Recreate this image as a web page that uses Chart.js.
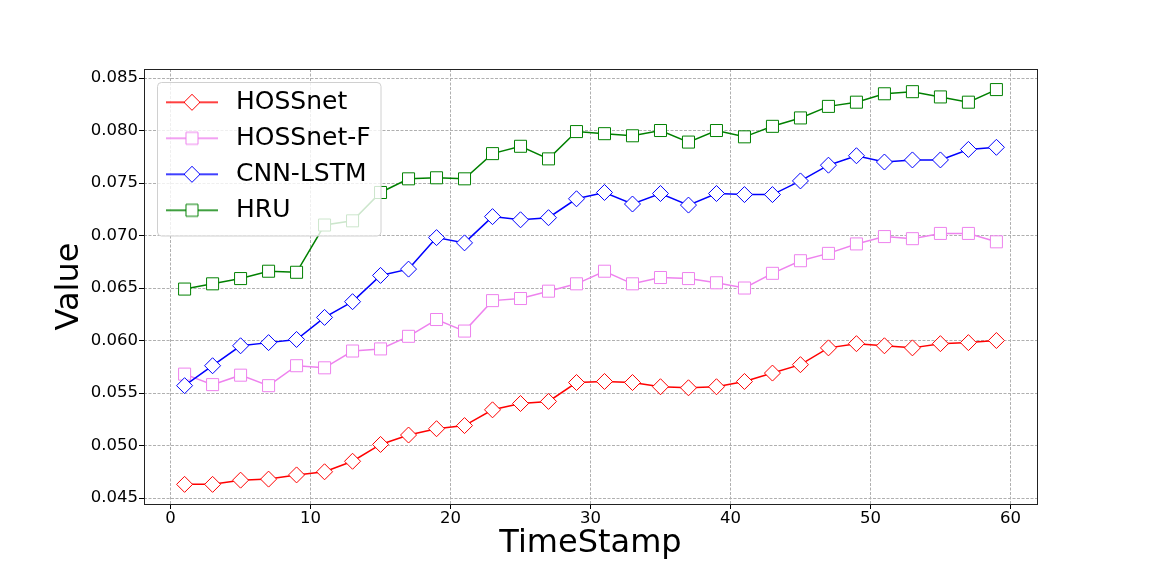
<!DOCTYPE html>
<html>
<head>
<meta charset="utf-8">
<script src="https://cdn.jsdelivr.net/npm/chart.js@4/dist/chart.umd.min.js"></script>
<style>
  html, body { margin: 0; padding: 0; background: #ffffff; }
  #wrap { width: 1152px; height: 576px; }
</style>
</head>
<body>
<div id="wrap"><canvas id="c" width="1152" height="576"></canvas></div>
<script>
// ---- data ----
const timeStamps = [1, 3, 5, 7, 9, 11, 13, 15, 17, 19, 21, 23, 25, 27, 29,
                    31, 33, 35, 37, 39, 41, 43, 45, 47, 49, 51, 53, 55, 57, 59];

const seriesNames = ['HOSSnet', 'HOSSnet-F', 'CNN-LSTM', 'HRU'];

const hossnet = [0.0463, 0.0463, 0.0467, 0.0468, 0.0472, 0.0475, 0.0485, 0.0501, 0.0510, 0.0516,
                 0.0519, 0.0534, 0.0540, 0.0542, 0.0560, 0.0561, 0.0560, 0.0556, 0.0555, 0.0556,
                 0.0561, 0.0569, 0.0577, 0.0593, 0.0597, 0.0595, 0.0593, 0.0597, 0.0598, 0.0600];

const hossnetF = [0.0568, 0.0558, 0.0567, 0.0557, 0.0576, 0.0574, 0.0590, 0.0592, 0.0604, 0.0620,
                  0.0609, 0.0638, 0.0640, 0.0647, 0.0654, 0.0666, 0.0654, 0.0660, 0.0659, 0.0655,
                  0.0650, 0.0664, 0.0676, 0.0683, 0.0692, 0.0699, 0.0697, 0.0702, 0.0702, 0.0694];

const cnnLstm = [0.0557, 0.0576, 0.0595, 0.0598, 0.0601, 0.0622, 0.0637, 0.0662, 0.0668, 0.0698,
                 0.0693, 0.0718, 0.0715, 0.0717, 0.0735, 0.0741, 0.0730, 0.0740, 0.0729, 0.0740,
                 0.0739, 0.0739, 0.0752, 0.0767, 0.0776, 0.0770, 0.0772, 0.0772, 0.0782, 0.0784];

const hru = [0.0649, 0.0654, 0.0659, 0.0666, 0.0665, 0.0710, 0.0714, 0.0741, 0.0754, 0.0755,
             0.0754, 0.0778, 0.0785, 0.0773, 0.0799, 0.0797, 0.0795, 0.0800, 0.0789, 0.0800,
             0.0794, 0.0804, 0.0812, 0.0823, 0.0827, 0.0835, 0.0837, 0.0832, 0.0827, 0.0839];

const xTickStep = 10;
const yTickStep = 0.005;
const xTitle = 'TimeStamp';
const yTitle = 'Value';

// ---- styles ----
const FONT = "'DejaVu Sans', 'Liberation Sans', sans-serif";
const colors = ['#ff0000', '#ee82ee', '#0000ff', '#008000'];
const shapes = ['rectRot', 'rect', 'rectRot', 'rect'];
const radii = [8, 8.5, 8, 8.5];
const drawOrder = [4, 3, 2, 1];
const seriesValues = [hossnet, hossnetF, cnnLstm, hru];

function makeIcon(color, style, r) {
  const c = document.createElement('canvas');
  c.width = 56; c.height = 22;
  const g = c.getContext('2d');
  g.strokeStyle = color; g.lineWidth = 1.5;
  g.beginPath(); g.moveTo(2, 11); g.lineTo(54, 11); g.stroke();
  g.fillStyle = '#ffffff'; g.lineWidth = 1;
  g.beginPath();
  if (style === 'rectRot') {
    g.moveTo(28 - r, 11); g.lineTo(28, 11 - r); g.lineTo(28 + r, 11); g.lineTo(28, 11 + r); g.closePath();
  } else {
    const h = r * Math.SQRT1_2;
    g.rect(28 - h, 11 - h, 2 * h, 2 * h);
  }
  g.fill(); g.stroke();
  return c;
}
const legendIcons = colors.map((c, i) => makeIcon(c, shapes[i], radii[i]));

const datasets = seriesNames.map((name, i) => ({
  label: name,
  data: timeStamps.map((t, k) => ({ x: t, y: seriesValues[i][k] })),
  borderColor: colors[i],
  backgroundColor: '#ffffff',
  borderWidth: 1.5,
  tension: 0,
  pointStyle: shapes[i],
  pointRadius: radii[i],
  pointBorderWidth: 1,
  pointBorderColor: colors[i],
  pointBackgroundColor: '#ffffff',
  order: drawOrder[i]
}));

const LEG = { left: 149.5, top: 78.8, width: 260, height: 170 };
const FRAME = { x: 157.5, y: 82.5, w: 223.5, h: 153.5, r: 4 };

const legendPlace = {
  id: 'legendPlace',
  afterLayout(chart) {
    const lg = chart.legend;
    if (!lg) return;
    lg.left = -3000; lg.right = -2700; lg.top = -3000; lg.bottom = -2800;
  },
  afterDatasetsDraw(chart) {
    const ctx = chart.ctx;
    ctx.save();
    ctx.beginPath();
    ctx.roundRect(FRAME.x, FRAME.y, FRAME.w, FRAME.h, FRAME.r);
    ctx.fillStyle = 'rgba(255,255,255,0.8)';
    ctx.fill();
    ctx.strokeStyle = '#d0d0d0';
    ctx.lineWidth = 1;
    ctx.stroke();
    ctx.restore();
    const lg = chart.legend;
    if (!lg) return;
    const saved = { l: lg.left, r: lg.right, t: lg.top, b: lg.bottom };
    lg.left = LEG.left; lg.right = LEG.left + LEG.width;
    lg.top = LEG.top; lg.bottom = LEG.top + LEG.height;
    lg.draw();
    lg.left = saved.l; lg.right = saved.r; lg.top = saved.t; lg.bottom = saved.b;
  }
};

const frame = {
  id: 'frame',
  beforeDraw(chart) {
    const ctx = chart.ctx;
    ctx.save();
    ctx.fillStyle = '#ffffff';
    ctx.fillRect(0, 0, chart.width, chart.height);
    ctx.restore();
  },
  afterDraw(chart) {
    const a = chart.chartArea;
    const ctx = chart.ctx;
    ctx.save();
    ctx.strokeStyle = '#222222';
    ctx.lineWidth = 1;
    ctx.strokeRect(a.left + 0.5, a.top + 0.5, a.right - a.left, a.bottom - a.top);
    ctx.restore();
  }
};

const gridCommon = {
  color: '#b0b0b0',
  lineWidth: 1,
  drawTicks: true,
  tickLength: 5,
  tickColor: '#000000',
  tickWidth: 1,
  tickBorderDash: []
};

new Chart(document.getElementById('c'), {
  type: 'line',
  data: { datasets },
  plugins: [frame, legendPlace],
  options: {
    responsive: false,
    animation: false,
    events: [],
    layout: { padding: { left: 0, top: 69, right: 115, bottom: 0 } },
    scales: {
      x: {
        type: 'linear',
        min: -1.9,
        max: 61.9,
        afterFit(scale) { scale.height = 72; },
        ticks: {
          stepSize: xTickStep,
          includeBounds: false,
          padding: 0,
          color: '#000000',
          maxRotation: 0,
          font: { family: FONT, size: 16.5 }
        },
        grid: gridCommon,
        border: { display: false, dash: [3, 1.5] },
        title: {
          display: true,
          text: xTitle,
          color: '#000000',
          font: { family: FONT, size: 32 },
          padding: { top: 0, bottom: 12.8 }
        }
      },
      y: {
        type: 'linear',
        min: 0.04443,
        max: 0.08586,
        afterFit(scale) { scale.width = 144; },
        ticks: {
          stepSize: yTickStep,
          includeBounds: false,
          padding: 1,
          color: '#000000',
          font: { family: FONT, size: 16.5 },
          callback: (v) => Number(v).toFixed(3)
        },
        grid: gridCommon,
        border: { display: false, dash: [3, 1.5] },
        title: {
          display: true,
          text: yTitle,
          color: '#000000',
          font: { family: FONT, size: 32 },
          padding: { top: 50.5, bottom: 0 }
        }
      }
    },
    plugins: {
      title: { display: false },
      tooltip: { enabled: false },
      legend: {
        display: true,
        position: 'chartArea',
        align: 'start',
        labels: {
          usePointStyle: true,
          pointStyleWidth: 63,
          padding: 11,
          color: '#000000',
          font: { family: FONT, size: 25 },
          sort: (a, b) => a.datasetIndex - b.datasetIndex,
          generateLabels(chart) {
            const items = Chart.defaults.plugins.legend.labels.generateLabels(chart);
            items.forEach((it) => { it.pointStyle = legendIcons[it.datasetIndex]; });
            return items;
          }
        }
      }
    }
  }
});
</script>
</body>
</html>
